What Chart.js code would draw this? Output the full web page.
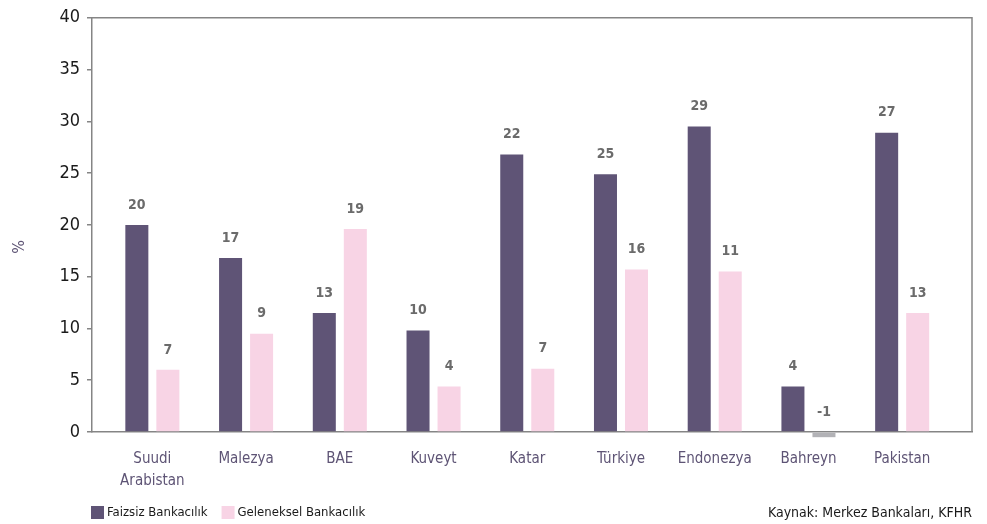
<!DOCTYPE html>
<html>
<head>
<meta charset="utf-8">
<script src="https://cdn.jsdelivr.net/npm/chart.js@4"></script>
<style>
  html, body { margin: 0; padding: 0; background: #fff; }
  #wrap { width: 987px; height: 524px; }
</style>
</head>
<body>
<div id="wrap"><canvas id="bankChart" width="987" height="524"></canvas></div>
<script>
// countries on the x axis
let countries = [['Suudi', 'Arabistan'], 'Malezya', 'BAE', 'Kuveyt', 'Katar', 'Türkiye', 'Endonezya', 'Bahreyn', 'Pakistan']

// bar heights (%)
let faizsizValues = [20.0, 16.8, 11.5, 9.8, 26.8, 24.9, 29.5, 4.4, 28.9]
let gelenekselValues = [6.0, 9.5, 19.6, 4.4, 6.1, 15.7, 15.5, -0.5, 11.5]

// numbers printed above the bars (they don't always match the bar heights)
let faizsizLabels = ['20', '17', '13', '10', '22', '25', '29', '4', '27']
let gelenekselLabels = ['7', '9', '19', '4', '7', '16', '11', '-1', '13']

let yTicks = [0, 5, 10, 15, 20, 25, 30, 35, 40]

let seriesNames = ['Faizsiz Bankacılık', 'Geleneksel Bankacılık']
let sourceText = 'Kaynak: Merkez Bankaları, KFHR'
let yTitle = '%'

let darkPurple = '#5f5476'
let lightPink = '#f8d4e5'
let negGray = '#b2b2b6'
let frameGray = '#858585'
let narrow = "'Liberation Sans Narrow', 'DejaVu Sans Condensed', sans-serif"

//labels drawn above each bar
let valueLabels = {
    id: 'valueLabels',
    afterDatasetsDraw(chart) {
        let ctx = chart.ctx
        let texts = [faizsizLabels, gelenekselLabels]
        ctx.save()
        ctx.font = 'bold 14px ' + narrow
        ctx.fillStyle = '#6b6b6b'
        ctx.textAlign = 'center'
        ctx.textBaseline = 'middle'
        chart.data.datasets.forEach(function (ds, d) {
            chart.getDatasetMeta(d).data.forEach(function (bar, i) {
                let top = Math.min(bar.y, bar.base)
                ctx.fillText(texts[d][i], bar.x, top - 20)
            })
        })
        ctx.restore()
    }
}

// top + right frame lines, y title, legend and source note
let frameAndNotes = {
    id: 'frameAndNotes',
    afterDraw(chart) {
        let ctx = chart.ctx
        let a = chart.chartArea
        ctx.save()
        ctx.strokeStyle = frameGray
        ctx.lineWidth = 1.5
        ctx.beginPath()
        ctx.moveTo(a.left, a.top)
        ctx.lineTo(a.right, a.top)
        ctx.lineTo(a.right, a.bottom)
        ctx.stroke()

        // y title
        ctx.save()
        ctx.translate(20, 247)
        ctx.rotate(-Math.PI / 2)
        ctx.font = '16px ' + narrow
        ctx.fillStyle = '#5e5475'
        ctx.textAlign = 'center'
        ctx.textBaseline = 'middle'
        ctx.fillText(yTitle, 0, 0)
        ctx.restore()

        // legend
        ctx.font = '13px ' + narrow
        ctx.textBaseline = 'middle'
        ctx.textAlign = 'left'
        let x = 91
        let colors = [darkPurple, lightPink]
        seriesNames.forEach(function (name, i) {
            ctx.fillStyle = colors[i]
            ctx.fillRect(x, 506, 13, 13)
            ctx.fillStyle = '#1a1a1a'
            ctx.fillText(name, x + 16, 513)
            x = Math.max(219, x + 16 + ctx.measureText(name).width + 14)
        })

        ctx.font = '14px ' + narrow
        ctx.textAlign = 'right'
        ctx.fillText(sourceText, a.right, 513)
        ctx.restore()
    }
}

let ctx = document.getElementById('bankChart').getContext('2d')

let bankChart = new Chart(ctx, {
    type: 'bar',
    data: {
        datasets: [{
            label: seriesNames[0],
            data: faizsizValues.map((v, i) => ({ x: i, y: v })),
            backgroundColor: darkPurple,
            categoryPercentage: 0.662,
            barPercentage: 0.742,
            clip: false
        }, {
            label: seriesNames[1],
            data: gelenekselValues.map((v, i) => ({ x: i, y: v })),
            backgroundColor: function (c) {
                return (c.raw && c.raw.y < 0) ? negGray : lightPink
            },
            categoryPercentage: 0.662,
            barPercentage: 0.742,
            clip: false //negative Bahreyn bar hangs below the axis
        }]
    },
    options: {
        responsive: false,
        animation: false,
        layout: { padding: { left: 0, right: 15, top: 15, bottom: 30 } },
        plugins: {
            legend: { display: false },
            tooltip: { enabled: false }
        },
        scales: {
            x: {
                type: 'linear',
                offset: false,
                min: -0.644,
                max: 8.745,
                afterBuildTicks: function (scale) {
                    scale.ticks = countries.map((c, i) => ({ value: i }))
                },
                afterFit: function (scale) { scale.height = 62 },
                grid: { display: false, drawTicks: false },
                border: { display: true, color: frameGray, width: 1.5 },
                ticks: {
                    autoSkip: false,
                    maxRotation: 0,
                    padding: 16,
                    color: '#5e5475',
                    font: { family: narrow, size: 15, lineHeight: 1.45 },
                    callback: function (v) { return countries[v] }
                }
            },
            y: {
                min: 0,
                max: 40,
                afterBuildTicks: function (scale) {
                    scale.ticks = yTicks.map(v => ({ value: v }))
                },
                afterFit: function (scale) { scale.width = 92 },
                grid: { drawOnChartArea: false, tickLength: 5, color: frameGray, lineWidth: 1.5 },
                border: { display: true, color: frameGray, width: 1.5 },
                ticks: {
                    padding: 7,
                    color: '#1a1a1a',
                    font: { family: narrow, size: 18 }
                }
            }
        }
    },
    plugins: [valueLabels, frameAndNotes]
})
</script>
</body>
</html>
